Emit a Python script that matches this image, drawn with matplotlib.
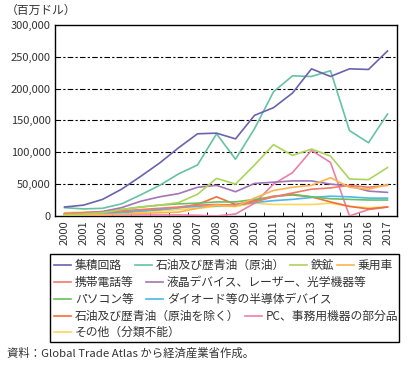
import matplotlib
matplotlib.use("Agg")
import matplotlib.pyplot as plt
from matplotlib.lines import Line2D
from matplotlib.patches import Rectangle
import numpy as np

plt.rcParams['font.family'] = ['Noto Sans CJK JP', 'DejaVu Sans']

# データ（百万ドル）
years = [str(y) for y in range(2000, 2018)]

ic = [14000, 17000, 26000, 42000, 62000, 83000, 107000, 129000, 130000, 121000,
      158000, 170000, 193000, 231000, 219000, 231000, 230000, 259000]
crude = [13000, 11000, 12000, 19000, 33000, 48000, 66000, 80000, 129000, 89000,
         137000, 195000, 220000, 219000, 228000, 134000, 115000, 160000]
iron = [2000, 3000, 5000, 10000, 14000, 17000, 21000, 34000, 59000, 50000,
        80000, 112000, 95000, 105000, 94000, 58000, 57000, 76000]
cars = [1000, 1500, 2000, 3000, 4000, 5000, 6000, 12000, 17000, 15000,
        28000, 40000, 45000, 48000, 60000, 45000, 42000, 49000]
phones = [4000, 5000, 6000, 8000, 10000, 12000, 14000, 17000, 18000, 17000,
          22000, 30000, 36000, 42000, 44000, 48000, 45000, 48000]
lcd = [3000, 5000, 7000, 13000, 23000, 30000, 35000, 45000, 48000, 38000,
       51000, 53000, 55000, 55000, 50000, 47000, 39000, 37000]
pcs = [2000, 4000, 6000, 10000, 14000, 17000, 19000, 20000, 22000, 22000,
       26000, 30000, 34000, 30000, 27000, 26000, 25000, 25000]
diode = [1000, 2000, 3000, 5000, 8000, 10000, 13000, 15000, 16000, 17000,
         21000, 24000, 26000, 29000, 31000, 30000, 28000, 28000]
oil_ex = [3000, 4000, 5000, 6000, 8000, 10000, 13000, 18000, 30000, 18000,
          24000, 31000, 33000, 30000, 22000, 15000, 11000, 14000]
pc_parts = [1500, 1500, 1500, 1500, 1500, 1500, 1500, 1000, 0, 3000,
            20000, 50000, 68000, 103000, 84000, 0, 10000, 14000]
other = [5000, 6000, 6000, 4000, 6000, 8000, 10000, 12000, 15000, 15000,
         20000, 18000, 18000, 18000, 20000, 15000, 13000, 14000]

names = ['集積回路', '石油及び歴青油（原油）', '鉄鉱', '乗用車', '携帯電話等',
         '液晶デバイス、レーザー、光学機器等', 'パソコン等', 'ダイオード等の半導体デバイス',
         '石油及び歴青油（原油を除く）', 'PC、事務用機器の部分品', 'その他（分類不能）']
series = [ic, crude, iron, cars, phones, lcd, pcs, diode, oil_ex, pc_parts, other]
colors = ['#6b62ad', '#66c2a5', '#abd45c', '#fbb44c', '#f4796b', '#a474b5',
          '#6abf5e', '#4db8ea', '#f26d3d', '#ea80a8', '#fcd757']

# 描画順（後ろから）
order = [10, 9, 8, 7, 6, 5, 4, 3, 2, 1, 0]

fig = plt.figure(figsize=(4.08, 3.66), dpi=100)
ax = fig.add_axes([0.135, 0.41, 0.838, 0.522])

x = np.arange(len(years))
for i in order:
    ax.plot(x, series[i], color=colors[i], linewidth=1.2, zorder=3)

ax.set_xlim(-0.5, len(years) - 0.5)
ax.set_ylim(0, 300000)
ax.set_yticks(range(0, 300001, 50000))
ax.set_yticklabels([f'{v:,}' for v in range(0, 300001, 50000)], fontsize=8, color='#333333')
ax.tick_params(axis='y', length=0, pad=3)
ax.set_xticks(x)
ax.set_xticklabels(years, rotation=90, fontsize=8, color='#333333')
ax.tick_params(axis='x', which='major', length=0, pad=3)
ax.set_xticks(np.arange(-0.5, len(years)), minor=True)
ax.tick_params(axis='x', which='minor', length=3, direction='in', color='black')

for v in range(50000, 300000, 50000):
    ax.axhline(v, color='black', linewidth=0.8, dashes=(5, 2, 2, 2), zorder=1)

for s in ax.spines.values():
    s.set_color('black')
    s.set_linewidth(1.0)

fig.text(6 / 408, 1 - 10 / 366, '（百万ドル）', fontsize=8.5, va='center', ha='left', color='#333333')

# 凡例（Excel風の流し込み）
W, H = 408, 366
fig.patches.append(Rectangle((50 / W, 1 - 342 / H), (399 - 50) / W, (342 - 254) / H,
                             transform=fig.transFigure, fill=False,
                             edgecolor='black', linewidth=1.0))
legend_pos = [(54, 265), (135, 265), (290, 265), (337, 265),
              (54, 282), (146, 282),
              (54, 299), (146, 299),
              (54, 316), (245, 316),
              (54, 332)]
for i, (lx, ly) in enumerate(legend_pos):
    fig.lines.append(Line2D([lx / W, (lx + 17) / W], [1 - ly / H, 1 - ly / H],
                            transform=fig.transFigure, color=colors[i], linewidth=1.2))
    fig.text((lx + 21) / W, 1 - ly / H, names[i], fontsize=8.5, va='center', ha='left',
             color='#333333')

fig.text(7 / W, 1 - 353 / H, '資料：Global Trade Atlas から経済産業省作成。', fontsize=8.2,
         va='center', ha='left', color='#333333')

fig.savefig('out.png', dpi=100)
